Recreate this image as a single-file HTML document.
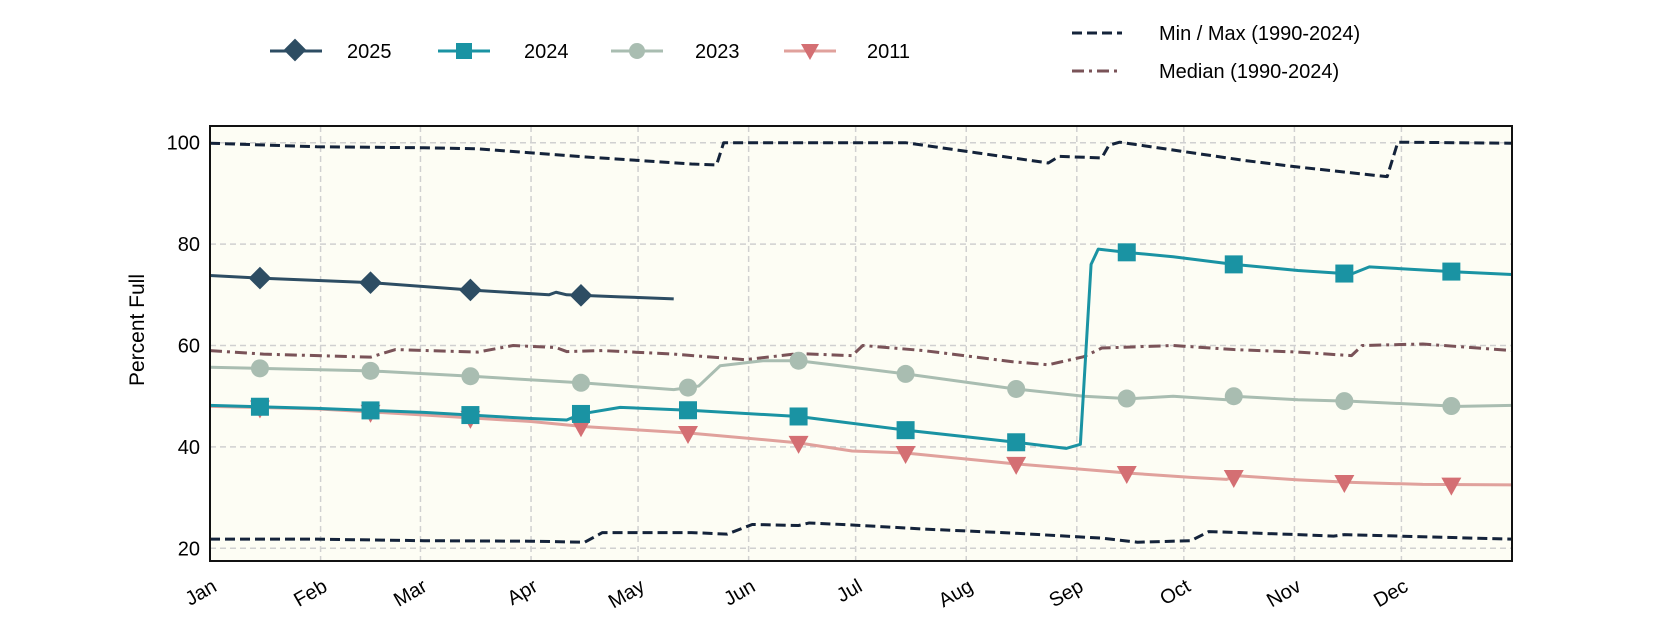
<!DOCTYPE html>
<html><head><meta charset="utf-8"><style>
body{margin:0;background:#fff;}
svg{display:block;font-family:"Liberation Sans",sans-serif;}
</style></head><body>
<svg id="chart" width="1680" height="630" viewBox="0 0 1680 630">
<rect x="210" y="126" width="1302" height="435" fill="#fdfdf4"/>
<g id="grid"></g>
<g id="series"></g>
<rect x="210" y="126" width="1302" height="435" fill="none" stroke="#111" stroke-width="2"/>
<g id="axes"></g>
<text x="144" y="330" font-size="21" text-anchor="middle" transform="rotate(-90 144 330)">Percent Full</text>
<g id="legend">
 <g><line x1="270" y1="51" x2="322" y2="51" stroke="#2d4d63" stroke-width="3"/><rect x="287" y="42" width="16" height="16" fill="#2d4d63" transform="rotate(45 295 50)"/><text x="347" y="58" font-size="20">2025</text></g>
 <g><line x1="438" y1="51" x2="490" y2="51" stroke="#1a93a3" stroke-width="3"/><rect x="456" y="43" width="16" height="16" fill="#1a93a3"/><text x="524" y="58" font-size="20">2024</text></g>
 <g><line x1="611" y1="51" x2="663" y2="51" stroke="#a9bdb1" stroke-width="3"/><circle cx="637" cy="51" r="8" fill="#a9bdb1"/><text x="695" y="58" font-size="20">2023</text></g>
 <g><line x1="784" y1="51" x2="836" y2="51" stroke="#e0a19c" stroke-width="3"/><path d="M801 44 L819 44 L810 60 Z" fill="#d46f73"/><text x="867" y="58" font-size="20">2011</text></g>
 <g><line x1="1072" y1="33" x2="1122" y2="33" stroke="#14233a" stroke-width="3" stroke-dasharray="10,5"/><text x="1159" y="40" font-size="20">Min / Max (1990-2024)</text></g>
 <g><line x1="1072" y1="71" x2="1122" y2="71" stroke="#7a5358" stroke-width="3" stroke-dasharray="12,5,3,5"/><text x="1159" y="78" font-size="20">Median (1990-2024)</text></g>
</g>
</svg>
<script>
const months=["Jan","Feb","Mar","Apr","May","Jun","Jul","Aug","Sep","Oct","Nov","Dec"];
const monthStartDays=[0,31,59,90,120,151,181,212,243,273,304,334];
const yTicks=[20,40,60,80,100];
const markerDays=[14,45,73,104,134,165,195,226,257,287,318,348];
const days2025=[0,14,45,74,95,97,100,115,130];
const vals2025=[73.8,73.3,72.4,70.9,70.0,70.5,70.0,69.6,69.2];
const days2024=[0,30,60,90,100,104,115,135,165,195,225,240,244,247,249,258,270,287,305,320,325,350,365];
const vals2024=[48.2,47.6,46.8,45.6,45.3,46.5,47.8,47.2,46.0,43.3,41.0,39.7,40.5,76,79,78.3,77.5,76.0,74.8,74.1,75.5,74.5,74.0];
const days2023=[0,14,45,74,105,130,137,143,155,165,180,195,225,245,258,270,285,287,305,320,350,365];
const vals2023=[55.7,55.5,55.0,53.9,52.6,51.3,52.0,56.0,57.0,57.0,55.7,54.4,51.5,50.0,49.5,50.0,49.3,50.0,49.3,49.0,48.0,48.2];
const days2011=[0,30,60,90,105,135,165,180,195,225,258,275,285,288,305,320,340,365];
const vals2011=[48.0,47.5,46.3,45.0,44.0,42.7,40.8,39.2,38.8,36.7,34.8,34.0,33.6,34.3,33.5,33.0,32.6,32.5];
const daysMedian=[0,15,45,52,75,85,97,100,110,130,150,165,180,183,200,225,235,245,250,270,287,305,320,323,340,365];
const valsMedian=[59,58.3,57.7,59.2,58.7,60,59.6,58.8,59,58.3,57.2,58.4,58,60,59,56.8,56.2,57.8,59.5,60,59.2,58.7,58,60,60.3,59];
const daysMax=[0,30,60,75,90,105,135,142,144,180,195,215,235,238,250,252,255,290,305,330,333,365];
const valsMax=[99.9,99.2,99,98.8,98,97.2,95.8,95.6,100,100,100,98,96,97.3,97,99.5,100.1,96.5,95.2,93.3,100.1,99.9];
const daysMin=[0,30,60,90,105,110,135,145,152,165,168,180,200,225,250,260,275,280,305,315,318,365];
const valsMin=[21.8,21.8,21.5,21.4,21.2,23.1,23.1,22.8,24.7,24.5,25,24.6,23.8,23,22,21.2,21.5,23.3,22.7,22.4,22.7,21.8];

const X0=210,X1=1512,Y20=548.3,PPU=5.07;
const x=d=>X0+d*(X1-X0)/365;
const y=v=>Y20-(v-20)*PPU;
const NS="http://www.w3.org/2000/svg";
function mk(tag,attrs,parent){const e=document.createElementNS(NS,tag);for(const k in attrs)e.setAttribute(k,attrs[k]);parent.appendChild(e);return e;}
function interp(ds,vs,d){if(d<=ds[0])return vs[0];for(let i=1;i<ds.length;i++){if(d<=ds[i]){const t=(d-ds[i-1])/(ds[i]-ds[i-1]);return vs[i-1]+t*(vs[i]-vs[i-1]);}}return vs[vs.length-1];}
const grid=document.getElementById('grid'),axes=document.getElementById('axes'),ser=document.getElementById('series');
yTicks.forEach(v=>{
 const g=mk('line',{x1:X0,x2:X1,y1:y(v),y2:y(v),stroke:'#d0d0d0','stroke-width':1.5,'stroke-dasharray':'6,4'},grid);
 
 
 const t=mk('text',{x:X0-10,y:y(v)+7,'font-size':20,'text-anchor':'end'},axes);t.textContent=v;
 
 
});
months.forEach((m,i)=>{
 const xx=x(monthStartDays[i]);
 if(i>0){const g=mk('line',{x1:xx,x2:xx,y1:126,y2:561,stroke:'#d0d0d0','stroke-width':1.5,'stroke-dasharray':'6,4'},grid);
 
 }
 const t=mk('text',{x:xx+8,y:590,'font-size':20,'text-anchor':'end',transform:`rotate(-30 ${xx+8} 590)`},axes);t.textContent=m;
 
 
});
function line(ds,vs,attrs,name){
 const p=mk('polyline',Object.assign({points:ds.map((d,i)=>x(d)+','+y(vs[i])).join(' '),fill:'none','stroke-width':3,'stroke-linejoin':'round'},attrs),ser);
 
 
}
function markers(ds,vs,kind,color,name){
 markerDays.forEach(d=>{
  if(d>ds[ds.length-1])return;
  const cx=x(d),cy=y(interp(ds,vs,d));let e;
  if(kind==='diamond')e=mk('rect',{x:cx-8,y:cy-8,width:16,height:16,fill:color,transform:`rotate(45 ${cx} ${cy})`},ser);
  else if(kind==='square')e=mk('rect',{x:cx-9,y:cy-9,width:18,height:18,fill:color},ser);
  else if(kind==='circle')e=mk('circle',{cx:cx,cy:cy,r:9,fill:color},ser);
  else e=mk('path',{d:`M${cx-10} ${cy-7} L${cx+10} ${cy-7} L${cx} ${cy+11} Z`,fill:color},ser);
  
  
 });
}
line(daysMax,valsMax,{stroke:'#14233a','stroke-dasharray':'10,5'},'max-line');
line(daysMin,valsMin,{stroke:'#14233a','stroke-dasharray':'10,5'},'min-line');
line(daysMedian,valsMedian,{stroke:'#7a5358','stroke-dasharray':'12,5,3,5'},'median-line');
line(days2011,vals2011,{stroke:'#e0a19c'},'line-2011');
markers(days2011,vals2011,'tri','#d46f73','2011');
line(days2023,vals2023,{stroke:'#a9bdb1'},'line-2023');
markers(days2023,vals2023,'circle','#a9bdb1','2023');
line(days2024,vals2024,{stroke:'#1a93a3'},'line-2024');
markers(days2024,vals2024,'square','#1a93a3','2024');
line(days2025,vals2025,{stroke:'#2d4d63'},'line-2025');
markers(days2025,vals2025,'diamond','#2d4d63','2025');
</script>
</body></html>
